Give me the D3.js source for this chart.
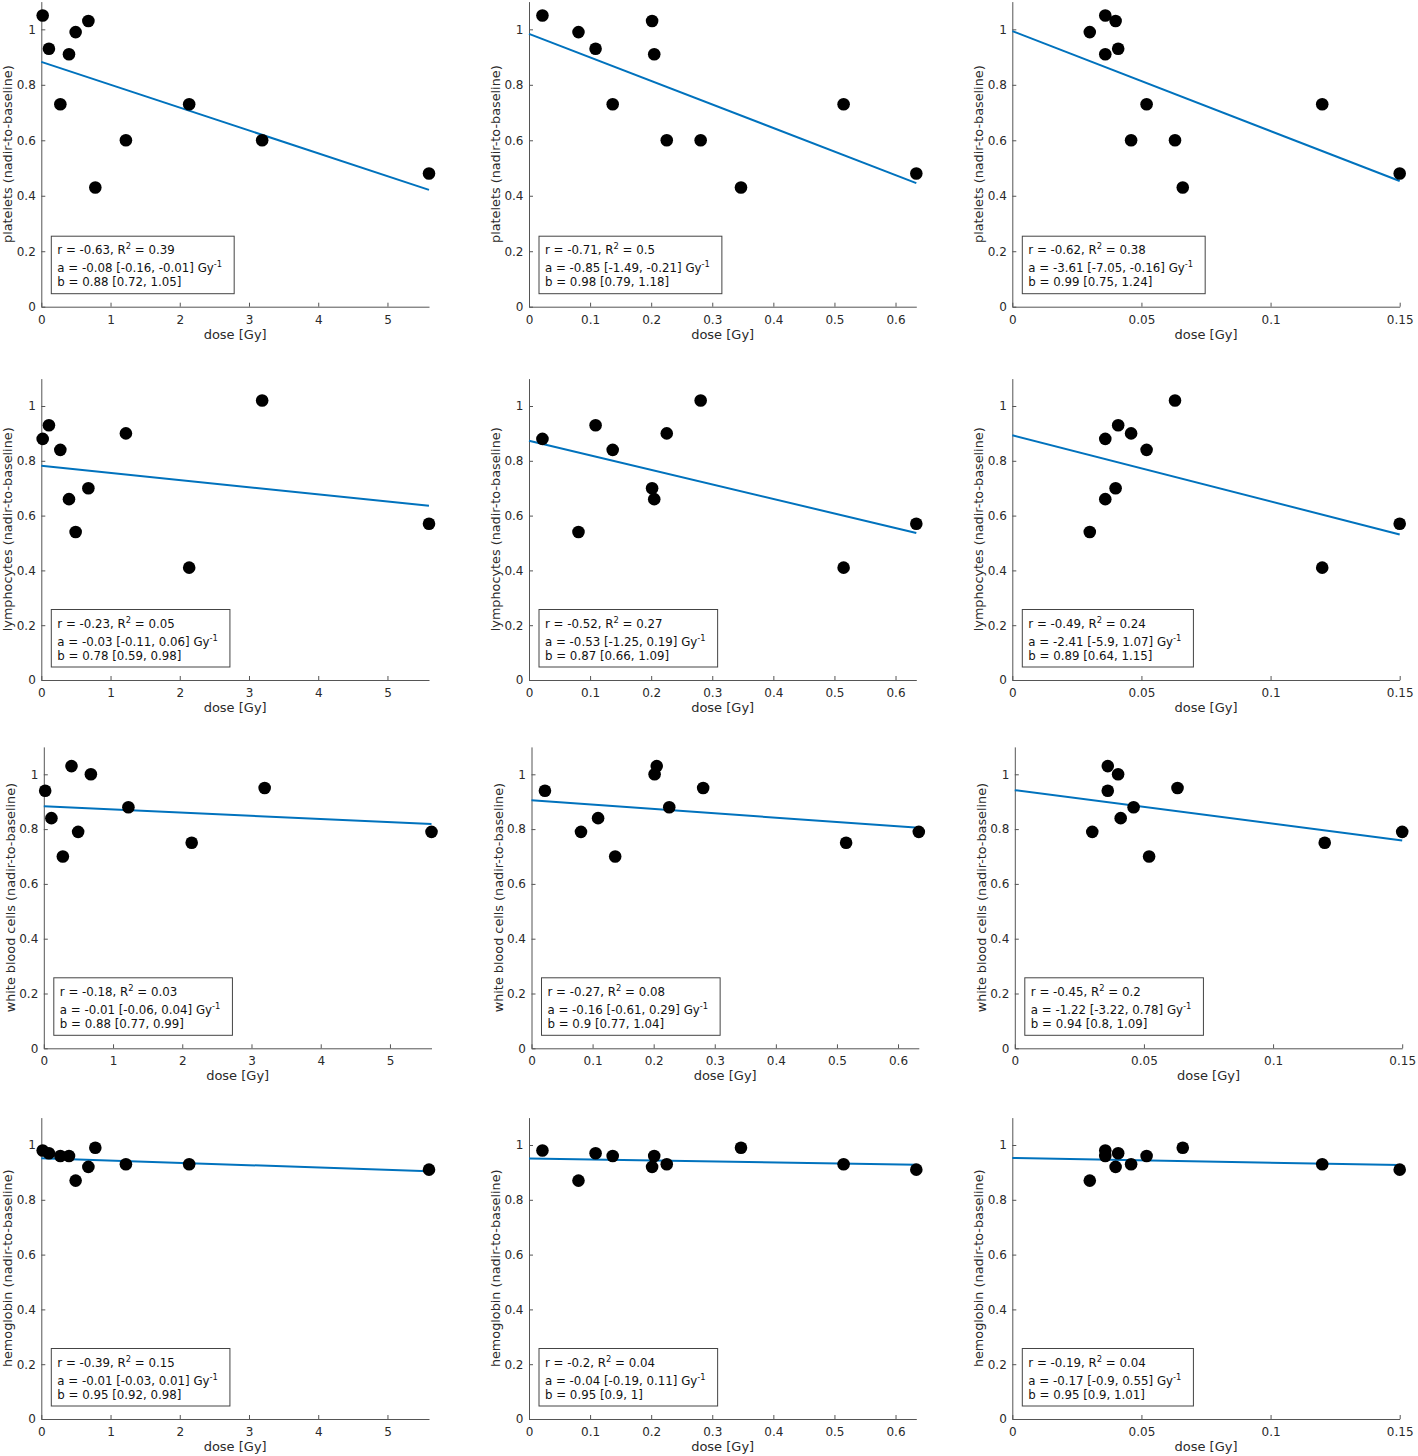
<!DOCTYPE html>
<html><head><meta charset="utf-8">
<script src="https://cdn.jsdelivr.net/npm/d3@7"></script>
<style>
body{margin:0;background:#fff}
svg text{font-family:"DejaVu Sans",sans-serif}
</style>
</head><body>
<svg id="chart" width="1418" height="1456"></svg>
<script>
// ---- data (11 patients) ----
const doseCol1 = [0.02, 0.11, 0.275, 0.40, 0.496, 0.68, 0.78, 1.222, 2.136, 3.19, 5.6];
const doseCol2 = [0.022, 0.109, 0.137, 0.205, 0.081, 0.2015, 0.347, 0.2255, 0.515, 0.281, 0.634];
const doseCol3 = [0.036, 0.041, 0.052, 0.036, 0.030, 0.040, 0.066, 0.046, 0.120, 0.063, 0.150];

const platelets       = [1.05, 0.93, 0.73, 0.91, 0.99, 1.03, 0.43, 0.60, 0.73, 0.60, 0.48];
const lymphocytes     = [0.88, 0.93, 0.84, 0.66, 0.54, 0.70, null, 0.90, 0.41, 1.02, 0.57];
const whiteBloodCells = [0.94, 0.84, 0.70, 1.03, 0.79, 1.00, null, 0.88, 0.75, 0.95, 0.79];
const hemoglobin      = [0.98, 0.97, 0.96, 0.96, 0.87, 0.92, 0.99, 0.93, 0.93, null, 0.91];

const rowNames = ["platelets", "lymphocytes", "white blood cells", "hemoglobin"];
const yLabelSuffix = " (nadir-to-baseline)";
const xLabel = "dose [Gy]";

const xTicksCol1 = [0, 1, 2, 3, 4, 5];
const xTicksCol2 = [0, 0.1, 0.2, 0.3, 0.4, 0.5, 0.6];
const xTicksCol3 = [0, 0.05, 0.1, 0.15];
const yTicks = [0, 0.2, 0.4, 0.6, 0.8, 1];
const yMax = 1.1;

// annotation texts [row][col]
const rText  = [["-0.63","-0.71","-0.62"],["-0.23","-0.52","-0.49"],["-0.18","-0.27","-0.45"],["-0.39","-0.2","-0.19"]];
const r2Text = [["0.39","0.5","0.38"],["0.05","0.27","0.24"],["0.03","0.08","0.2"],["0.15","0.04","0.04"]];
const aText  = [["-0.08 [-0.16, -0.01]","-0.85 [-1.49, -0.21]","-3.61 [-7.05, -0.16]"],
                ["-0.03 [-0.11, 0.06]","-0.53 [-1.25, 0.19]","-2.41 [-5.9, 1.07]"],
                ["-0.01 [-0.06, 0.04]","-0.16 [-0.61, 0.29]","-1.22 [-3.22, 0.78]"],
                ["-0.01 [-0.03, 0.01]","-0.04 [-0.19, 0.11]","-0.17 [-0.9, 0.55]"]];
const bText  = [["0.88 [0.72, 1.05]","0.98 [0.79, 1.18]","0.99 [0.75, 1.24]"],
                ["0.78 [0.59, 0.98]","0.87 [0.66, 1.09]","0.89 [0.64, 1.15]"],
                ["0.88 [0.77, 0.99]","0.9 [0.77, 1.04]","0.94 [0.8, 1.09]"],
                ["0.95 [0.92, 0.98]","0.95 [0.9, 1]","0.95 [0.9, 1.01]"]];

// ---- layout ----
const colX = [[41.3, 429], [529, 916.3], [1012.3, 1399.7]];
const rowY = [[306.7, 1.6], [680, 378.6], [1048.3, 746.9], [1419, 1117.6]];
const rowShift = [0, 0, 2.5, 0];

const doses = [doseCol1, doseCol2, doseCol3];
const xTicks = [xTicksCol1, xTicksCol2, xTicksCol3];
const values = [platelets, lymphocytes, whiteBloodCells, hemoglobin];

const svg = d3.select("#chart");
const axisColor = "#555";
const textColor = "#2a2a2a";

function fit(xs, ys) {
  const pts = xs.map((x, i) => [x, ys[i]]).filter(p => p[1] != null);
  const mx = d3.mean(pts, p => p[0]), my = d3.mean(pts, p => p[1]);
  const sxy = d3.sum(pts, p => (p[0] - mx) * (p[1] - my));
  const sxx = d3.sum(pts, p => (p[0] - mx) ** 2);
  const a = sxy / sxx;
  return { a, b: my - a * mx };
}

for (let r = 0; r < 4; r++) {
  for (let c = 0; c < 3; c++) {
    const xs = doses[c], ys = values[r];
    const x = d3.scaleLinear().domain([0, d3.max(xs)]).range([colX[c][0] + rowShift[r], colX[c][1] + rowShift[r]]);
    const y = d3.scaleLinear().domain([0, yMax]).range([rowY[r][0], rowY[r][1]]);
    const g = svg.append("g");
    const x0 = x.range()[0], y0 = y.range()[0];

    // x axis
    const xa = g.append("g").attr("transform", `translate(0,${y0})`)
      .call(d3.axisBottom(x).tickValues(xTicks[c]).tickFormat(d3.format("~g"))
        .tickSizeInner(-4).tickSizeOuter(0).tickPadding(8.5));
    // y axis
    const ya = g.append("g").attr("transform", `translate(${x0},0)`)
      .call(d3.axisLeft(y).tickValues(yTicks).tickFormat(d3.format("~g"))
        .tickSizeInner(-4).tickSizeOuter(0).tickPadding(5.5));
    [xa, ya].forEach(ax => {
      ax.attr("font-family", null).attr("font-size", null);
      ax.selectAll("path, line").attr("stroke", axisColor).attr("stroke-width", 1);
      ax.selectAll("text").attr("fill", textColor).style("font-size", "12px");
    });

    // axis labels
    g.append("text").attr("x", (x.range()[0] + x.range()[1]) / 2).attr("y", y0 + 32)
      .attr("text-anchor", "middle").attr("fill", textColor).style("font-size", "13px")
      .text(xLabel);
    g.append("text")
      .attr("transform", `translate(${x0 - 29},${(y.range()[0] + y.range()[1]) / 2}) rotate(-90)`)
      .attr("text-anchor", "middle").attr("fill", textColor).style("font-size", "12.8px")
      .text(rowNames[r] + yLabelSuffix);

    // regression line
    const f = fit(xs, ys);
    const xd = x.domain();
    g.append("line")
      .attr("x1", x(xd[0])).attr("y1", y(f.a * xd[0] + f.b))
      .attr("x2", x(xd[1])).attr("y2", y(f.a * xd[1] + f.b))
      .attr("stroke", "#0072BD").attr("stroke-width", 2);

    // points
    g.selectAll("circle").data(xs.map((d, i) => [d, ys[i]]).filter(p => p[1] != null))
      .join("circle").attr("cx", p => x(p[0])).attr("cy", p => y(p[1]))
      .attr("r", 6.3).attr("fill", "#000");

    // annotation box
    const boxLeft = x0 + 10, boxBottom = y0 - 13, boxH = 57.5, boxTop = boxBottom - boxH;
    const box = g.append("rect").attr("x", boxLeft).attr("y", boxTop).attr("height", boxH)
      .attr("fill", "#fff").attr("stroke", "#444").attr("stroke-width", 1);
    const tx = boxLeft + 6;
    const fs = "11.8px", sup = "8.4px";
    const t1 = g.append("text").attr("x", tx).attr("y", boxTop + 18).style("font-size", fs).attr("fill", "#111");
    t1.append("tspan").text(`r = ${rText[r][c]}, R`);
    t1.append("tspan").attr("dy", -5).style("font-size", sup).text("2");
    t1.append("tspan").attr("dy", 5).text(` = ${r2Text[r][c]}`);
    const t2 = g.append("text").attr("x", tx).attr("y", boxTop + 36).style("font-size", fs).attr("fill", "#111");
    t2.append("tspan").text(`a = ${aText[r][c]} Gy`);
    t2.append("tspan").attr("dy", -5).style("font-size", sup).text("-1");
    const t3 = g.append("text").attr("x", tx).attr("y", boxTop + 50).style("font-size", fs).attr("fill", "#111");
    t3.text(`b = ${bText[r][c]}`);
    const w = d3.max([t1, t2, t3], t => t.node().getBBox().width);
    box.attr("width", w + 18);
  }
}
</script>
</body></html>
